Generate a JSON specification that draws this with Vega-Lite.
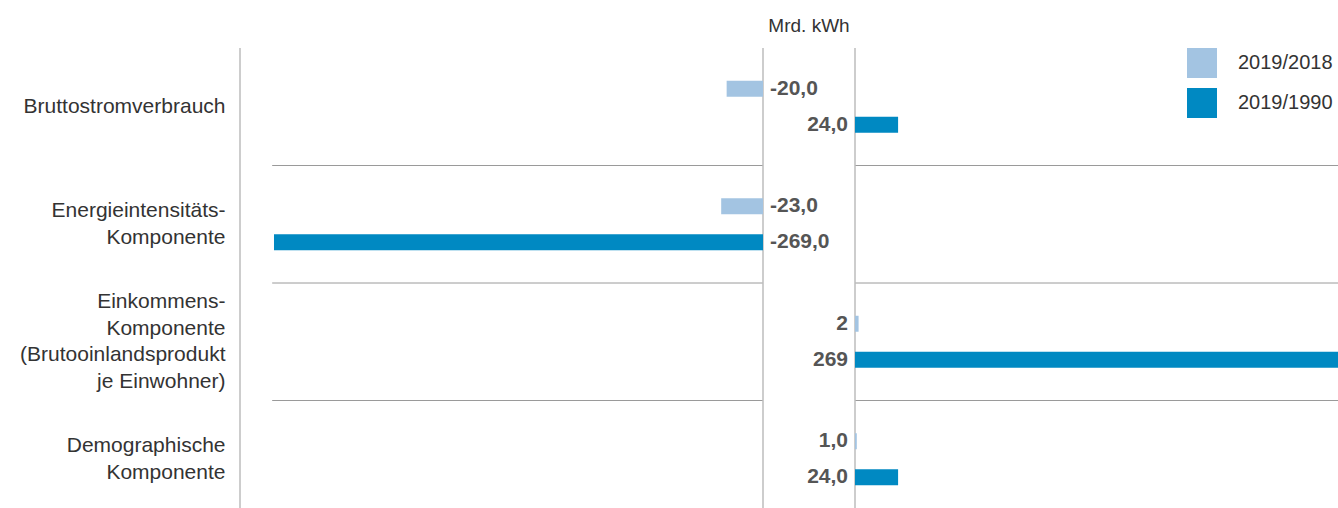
{
  "$schema": "https://vega.github.io/schema/vega-lite/v6.json",
  "padding": {"left": 19, "top": 17, "right": 0, "bottom": 0},
  "bounds": "flush",
  "spacing": 0,
  "config": {
    "view": {"stroke": null},
    "font": "Liberation Sans",
    "text": {"font": "Liberation Sans"}
  },
  "datasets": {
    "bars": [
      {"cat": "Bruttostromverbrauch", "series": "2019/2018", "value": -20, "label": "-20,0"},
      {"cat": "Bruttostromverbrauch", "series": "2019/1990", "value": 24, "label": "24,0"},
      {"cat": "Energieintensitäts-|Komponente", "series": "2019/2018", "value": -23, "label": "-23,0"},
      {"cat": "Energieintensitäts-|Komponente", "series": "2019/1990", "value": -269, "label": "-269,0"},
      {"cat": "Einkommens-|Komponente|(Brutooinlandsprodukt|je Einwohner)", "series": "2019/2018", "value": 2, "label": "2"},
      {"cat": "Einkommens-|Komponente|(Brutooinlandsprodukt|je Einwohner)", "series": "2019/1990", "value": 269, "label": "269"},
      {"cat": "Demographische|Komponente", "series": "2019/2018", "value": 1, "label": "1,0"},
      {"cat": "Demographische|Komponente", "series": "2019/1990", "value": 24, "label": "24,0"}
    ],
    "cats": [
      {"cat": "Energieintensitäts-|Komponente"},
      {"cat": "Einkommens-|Komponente|(Brutooinlandsprodukt|je Einwohner)"},
      {"cat": "Demographische|Komponente"}
    ]
  },
  "resolve": {"legend": {"color": "independent"}},
  "hconcat": [
    {
      "width": 523,
      "height": 461,
      "layer": [
        {
          "data": {"name": "cats"},
          "mark": {"type": "rule", "color": "#9a9a9a", "strokeWidth": 1},
          "encoding": {
            "y": {"field": "cat", "type": "nominal", "sort": null, "bandPosition": 0,
                  "scale": {"domain": ["Bruttostromverbrauch", "Energieintensitäts-|Komponente", "Einkommens-|Komponente|(Brutooinlandsprodukt|je Einwohner)", "Demographische|Komponente"], "rangeMax": 470, "paddingInner": 0, "paddingOuter": 0},
                  "axis": {"title": null, "domain": false, "ticks": false, "labelFontSize": 21, "labelColor": "#333", "labelPadding": 15, "labelLineHeight": 26.5, "labelExpr": "split(datum.label, '|')", "labelLimit": 400,
                           "labelOffset": {"condition": [
                             {"test": "indexof(datum.value, 'Einkommens') >= 0", "value": -39.75},
                             {"test": "indexof(datum.value, '|') >= 0", "value": -13.25}
                           ], "value": 0}}},
            "x": {"datum": -270, "type": "quantitative", "scale": {"domain": [-287.7, 0], "nice": false}, "axis": null},
            "x2": {"datum": 0}
          }
        },
        {
          "data": {"values": [{"pos": -287.7}, {"pos": 0}]},
          "mark": {"type": "rule", "color": "#bdbdbd", "strokeWidth": 1.5},
          "encoding": {
            "x": {"field": "pos", "type": "quantitative"}
          }
        },
        {
          "data": {"name": "bars"},
          "transform": [{"filter": "datum.value < 0"}],
          "mark": {"type": "bar"},
          "encoding": {
            "y": {"field": "cat", "type": "nominal", "sort": null},
            "yOffset": {"field": "series", "type": "nominal", "scale": {"domain": ["2019/2018", "2019/1990"], "paddingInner": 0.556, "paddingOuter": 0.91}},
            "x": {"field": "value", "type": "quantitative"},
            "color": {"field": "series", "type": "nominal", "scale": {"domain": ["2019/2018", "2019/1990"], "range": ["#a3c4e2", "#0089c2"]}, "legend": null}
          }
        }
      ]
    },
    {
      "width": 92,
      "height": 461,
      "title": {"text": "Mrd. kWh", "fontSize": 19, "fontWeight": "normal", "color": "#333", "font": "Liberation Sans", "anchor": "middle", "offset": 12},
      "data": {"name": "bars"},
      "layer": [
        {
          "transform": [{"filter": "datum.value < 0"}],
          "mark": {"type": "text", "align": "left", "baseline": "middle", "dx": 7, "fontSize": 21, "fontWeight": "bold", "color": "#555"},
          "encoding": {
            "y": {"field": "cat", "type": "nominal", "sort": null, "axis": null,
                  "scale": {"domain": ["Bruttostromverbrauch", "Energieintensitäts-|Komponente", "Einkommens-|Komponente|(Brutooinlandsprodukt|je Einwohner)", "Demographische|Komponente"], "rangeMax": 470, "paddingInner": 0, "paddingOuter": 0}},
            "yOffset": {"field": "series", "type": "nominal", "scale": {"domain": ["2019/2018", "2019/1990"], "paddingInner": 0.556, "paddingOuter": 0.91}},
            "x": {"datum": 0, "type": "quantitative", "scale": {"domain": [0, 1], "nice": false}, "axis": null},
            "text": {"field": "label"}
          }
        },
        {
          "transform": [{"filter": "datum.value >= 0"}],
          "mark": {"type": "text", "align": "right", "baseline": "middle", "dx": -7, "fontSize": 21, "fontWeight": "bold", "color": "#555"},
          "encoding": {
            "y": {"field": "cat", "type": "nominal", "sort": null},
            "yOffset": {"field": "series", "type": "nominal"},
            "x": {"datum": 1, "type": "quantitative"},
            "text": {"field": "label"}
          }
        }
      ]
    },
    {
      "width": 483,
      "height": 461,
      "layer": [
        {
          "data": {"name": "cats"},
          "mark": {"type": "rule", "color": "#9a9a9a", "strokeWidth": 1},
          "encoding": {
            "y": {"field": "cat", "type": "nominal", "sort": null, "bandPosition": 0,
                  "scale": {"domain": ["Bruttostromverbrauch", "Energieintensitäts-|Komponente", "Einkommens-|Komponente|(Brutooinlandsprodukt|je Einwohner)", "Demographische|Komponente"], "rangeMax": 470, "paddingInner": 0, "paddingOuter": 0},
                  "axis": null},
            "x": {"datum": 0, "type": "quantitative", "scale": {"domain": [0, 269], "nice": false}, "axis": null},
            "x2": {"datum": 269}
          }
        },
        {
          "data": {"values": [{"pos": 0}]},
          "mark": {"type": "rule", "color": "#bdbdbd", "strokeWidth": 1.5},
          "encoding": {
            "x": {"field": "pos", "type": "quantitative"}
          }
        },
        {
          "data": {"name": "bars"},
          "transform": [{"filter": "datum.value >= 0"}],
          "mark": {"type": "bar"},
          "encoding": {
            "y": {"field": "cat", "type": "nominal", "sort": null},
            "yOffset": {"field": "series", "type": "nominal", "scale": {"domain": ["2019/2018", "2019/1990"], "paddingInner": 0.556, "paddingOuter": 0.91}},
            "x": {"field": "value", "type": "quantitative"},
            "color": {"field": "series", "type": "nominal", "scale": {"domain": ["2019/2018", "2019/1990"], "range": ["#a3c4e2", "#0089c2"]},
                      "legend": {"orient": "none", "legendX": 332, "legendY": 0, "title": null, "symbolType": "square", "symbolSize": 900, "symbolStrokeWidth": 0, "symbolOpacity": 1, "labelFontSize": 20, "labelColor": "#333", "labelFont": "Liberation Sans", "labelOffset": 21, "rowPadding": 10, "padding": 0}}
          }
        }
      ]
    }
  ]
}
